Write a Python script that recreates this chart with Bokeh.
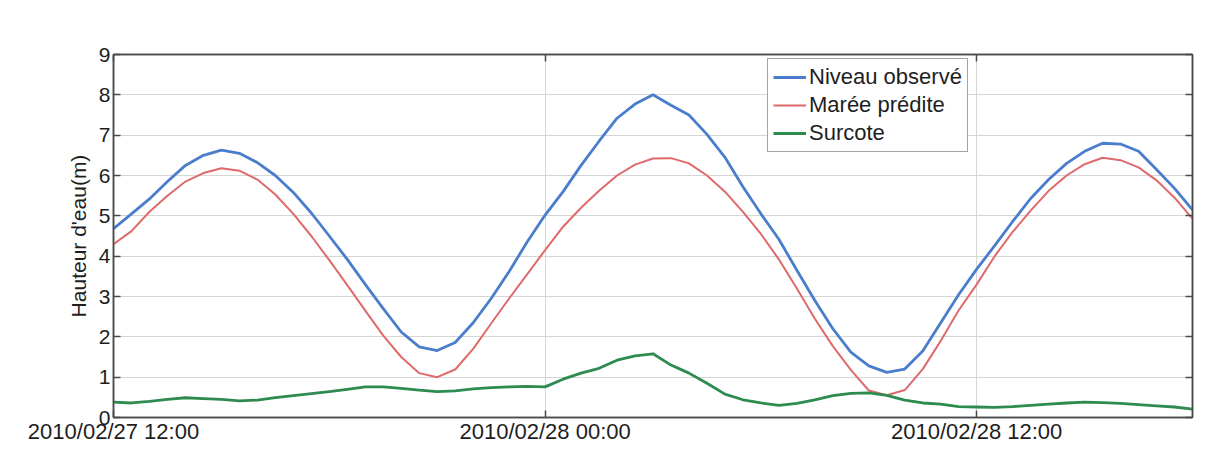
import numpy as np
import pandas as pd
from bokeh.plotting import figure
from bokeh.models import (Range1d, FixedTicker, LinearAxis, DatetimeAxis, Legend,
                          LegendItem, ColumnDataSource)
from bokeh.embed import file_html
from bokeh.resources import INLINE

# ---- data (half-hour samples from 2010/02/27 12:00) ----
start_time = "2010-02-27 12:00"
step_hours = 0.5

niveau_observe = [
    4.68, 5.05, 5.42, 5.85, 6.25, 6.50, 6.63, 6.55, 6.32, 6.00,
    5.58, 5.07, 4.50, 3.92, 3.30, 2.70, 2.12, 1.75, 1.66, 1.86,
    2.35, 2.95, 3.62, 4.35, 5.02, 5.60, 6.25, 6.85, 7.42, 7.77,
    8.00, 7.74, 7.50, 7.02, 6.45, 5.72, 5.05, 4.42, 3.65, 2.90,
    2.20, 1.62, 1.28, 1.12, 1.20, 1.65, 2.35, 3.05, 3.68, 4.26,
    4.86, 5.43, 5.90, 6.30, 6.60, 6.80, 6.78, 6.60, 6.15, 5.68,
    5.15,
]
maree_predite = [
    4.30, 4.62, 5.10, 5.50, 5.85, 6.06, 6.18, 6.12, 5.90, 5.53,
    5.05, 4.50, 3.90, 3.28, 2.65, 2.03, 1.50, 1.10, 1.00, 1.19,
    1.70, 2.33, 2.95, 3.55, 4.15, 4.73, 5.20, 5.62, 6.00, 6.27,
    6.42, 6.43, 6.30, 6.00, 5.60, 5.10, 4.55, 3.92, 3.20, 2.45,
    1.77, 1.18, 0.67, 0.55, 0.68, 1.20, 1.90, 2.66, 3.30, 4.00,
    4.60, 5.13, 5.62, 6.00, 6.28, 6.44, 6.38, 6.20, 5.88, 5.45,
    4.93,
]
surcote = [
    0.38, 0.36, 0.40, 0.45, 0.49, 0.47, 0.45, 0.41, 0.43, 0.49,
    0.54, 0.59, 0.64, 0.70, 0.76, 0.76, 0.72, 0.68, 0.64, 0.66,
    0.71, 0.74, 0.76, 0.77, 0.76, 0.95, 1.10, 1.22, 1.42, 1.53,
    1.58, 1.30, 1.10, 0.85, 0.58, 0.44, 0.36, 0.30, 0.35, 0.44,
    0.54, 0.60, 0.61, 0.55, 0.43, 0.36, 0.33, 0.27, 0.26, 0.25,
    0.27, 0.30, 0.33, 0.36, 0.38, 0.37, 0.35, 0.32, 0.29, 0.26,
    0.21,
]
series_names = ["Niveau observé", "Marée prédite", "Surcote"]
series_colors = ["#4a7dcb", "#de6a6c", "#2e8b50"]

x_tick_times = ["2010-02-27 12:00", "2010-02-28 00:00", "2010-02-28 12:00"]
x_tick_labels = ["2010/02/27 12:00", "2010/02/28 00:00", "2010/02/28 12:00"]
x_end_time = "2010-02-28 18:00"
y_ticks = [0, 1, 2, 3, 4, 5, 6, 7, 8, 9]
y_label = "Hauteur d'eau(m)"

# ---- build ----
t0 = pd.Timestamp(start_time)
times = [t0 + pd.Timedelta(hours=step_hours * i) for i in range(len(niveau_observe))]
src = ColumnDataSource(dict(t=times, obs=niveau_observe, pred=maree_predite, surge=surcote))

def ms(s):
    return pd.Timestamp(s).value / 1e6

tick_ms = [ms(s) for s in x_tick_times]

FONT = "Liberation Sans"
AX = "#4a4a4a"
TXT = "#1e1e1e"
GRID = "#d6d6d6"

p = figure(width=1217, height=458, x_axis_type="datetime",
           output_backend="svg", toolbar_location=None,
           x_range=Range1d(ms(start_time), ms(x_end_time)),
           y_range=Range1d(0, 9),
           min_border_left=113, min_border_right=25,
           min_border_top=54, min_border_bottom=41)
p.background_fill_color = "white"
p.border_fill_color = "white"
p.outline_line_color = AX
p.outline_line_width = 1.5

# grids
p.xgrid.ticker = FixedTicker(ticks=tick_ms)
p.ygrid.ticker = FixedTicker(ticks=y_ticks)
p.xgrid.grid_line_color = GRID
p.ygrid.grid_line_color = GRID
p.xgrid.grid_line_width = 1
p.ygrid.grid_line_width = 1.2

# bottom axis
xa = p.xaxis[0]
xa.ticker = FixedTicker(ticks=tick_ms)
xa.major_label_overrides = {k: v for k, v in zip(tick_ms, x_tick_labels)}
xa.major_tick_in = 7
xa.major_tick_out = 0
xa.minor_tick_in = 0
xa.minor_tick_out = 0
xa.axis_line_color = AX
xa.axis_line_width = 1.5
xa.major_tick_line_color = AX
xa.major_tick_line_width = 1.5
xa.major_label_text_font = FONT
xa.major_label_text_font_size = "22px"
xa.major_label_text_color = TXT
xa.major_label_standoff = 1

# left axis
ya = p.yaxis[0]
ya.ticker = FixedTicker(ticks=y_ticks)
ya.major_tick_in = 7
ya.major_tick_out = 0
ya.minor_tick_in = 0
ya.minor_tick_out = 0
ya.axis_line_color = AX
ya.axis_line_width = 1.5
ya.major_tick_line_color = AX
ya.major_tick_line_width = 1.5
ya.major_label_text_font = FONT
ya.major_label_text_font_size = "21px"
ya.major_label_text_color = TXT
ya.major_label_standoff = 3
ya.axis_label = y_label
ya.axis_label_text_font = FONT
ya.axis_label_text_font_size = "21px"
ya.axis_label_text_font_style = "normal"
ya.axis_label_text_color = TXT
ya.axis_label_standoff = 6

# mirrored right and top axes (ticks only)
ra = LinearAxis(ticker=FixedTicker(ticks=y_ticks), major_tick_in=7, major_tick_out=0,
                minor_tick_in=0, minor_tick_out=0, axis_line_color=AX, axis_line_width=1.5,
                major_tick_line_color=AX, major_tick_line_width=1.5,
                major_label_text_color=None, major_label_text_font_size="1px")
p.add_layout(ra, "right")
ta = DatetimeAxis(ticker=FixedTicker(ticks=tick_ms), major_tick_in=7, major_tick_out=0,
                  minor_tick_in=0, minor_tick_out=0, axis_line_color=AX, axis_line_width=1.5,
                  major_tick_line_color=AX, major_tick_line_width=1.5,
                  major_label_text_color=None, major_label_text_font_size="1px")
p.add_layout(ta, "above")

# lines
r_obs = p.line("t", "obs", source=src, line_color=series_colors[0], line_width=2.8,
               line_join="round")
r_pred = p.line("t", "pred", source=src, line_color=series_colors[1], line_width=2.0,
                line_join="round")
r_surge = p.line("t", "surge", source=src, line_color=series_colors[2], line_width=2.8,
                 line_join="round")

legend = Legend(items=[LegendItem(label=series_names[0], renderers=[r_obs]),
                       LegendItem(label=series_names[1], renderers=[r_pred]),
                       LegendItem(label=series_names[2], renderers=[r_surge])],
                location=(654, 265))
legend.border_line_color = AX
legend.border_line_width = 1.5
legend.background_fill_color = "white"
legend.background_fill_alpha = 1.0
legend.label_text_font = FONT
legend.label_text_font_size = "22px"
legend.label_text_color = TXT
legend.glyph_width = 33
legend.glyph_height = 20
legend.label_height = 20
legend.label_standoff = 3
legend.spacing = 2
legend.padding = 5
legend.margin = 0
p.add_layout(legend, "center")

open("out.html", "w").write(file_html(p, INLINE))
